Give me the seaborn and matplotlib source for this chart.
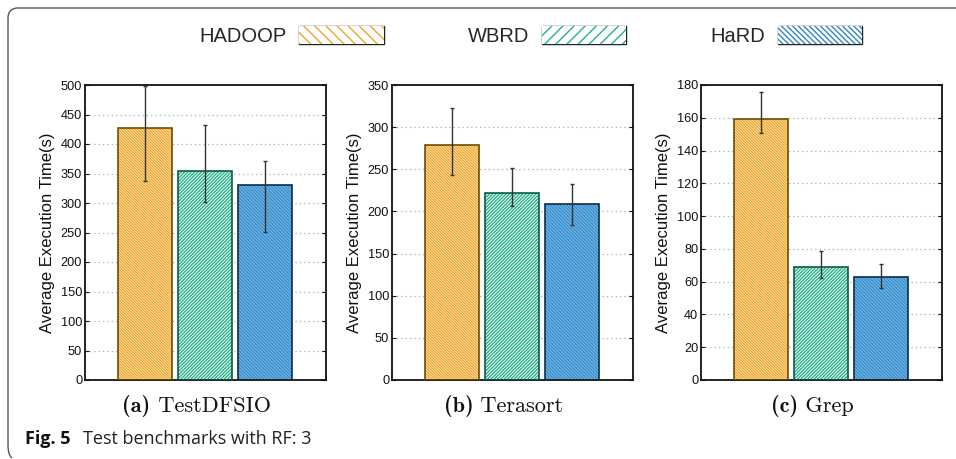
import matplotlib
matplotlib.use("Agg")
import matplotlib.pyplot as plt
import seaborn as sns
import pandas as pd
import numpy as np
from matplotlib.patches import Patch, Rectangle, PathPatch
from matplotlib.path import Path

# ---------------- data ----------------
methods = ["HADOOP", "WBRD", "HaRD"]
benchmarks = ["TestDFSIO", "Terasort", "Grep"]
panel_letters = ["a", "b", "c"]

testdfsio_mean = [427, 355, 330]
testdfsio_low = [338, 301, 251]
testdfsio_high = [499, 432, 372]

terasort_mean = [279, 222, 209]
terasort_low = [243, 206, 184]
terasort_high = [323, 252, 232]

grep_mean = [159, 69, 63]
grep_low = [151, 62, 56]
grep_high = [176, 79, 71]

y_max = [500, 350, 180]
y_step = [50, 50, 20]

ylabel = "Average Execution Time(s)"
caption_bold = "Fig. 5"
caption_text = "Test benchmarks with RF: 3"

# ---------------- style ----------------
sns.set_theme(style="white")
plt.rcParams["font.family"] = ["Liberation Sans", "DejaVu Sans"]
plt.rcParams["hatch.linewidth"] = 1.0

hatch_col = {"HADOOP": "#F0A526", "WBRD": "#25B08A", "HaRD": "#2F86C4"}
face_col = {"HADOOP": "white", "WBRD": "white", "HaRD": "#2F86C4"}
hatch_line = {"HADOOP": "#F0A526", "WBRD": "#25B08A", "HaRD": "#6DB2E4"}
edge_col = {"HADOOP": "#6B4E00", "WBRD": "#0D5C45", "HaRD": "#0C2E48"}
bar_hatch = {"HADOOP": "\\" * 12, "WBRD": "/" * 10, "HaRD": "\\" * 10}
leg_hatch = {"HADOOP": "\\" * 3, "WBRD": "/" * 3, "HaRD": "\\" * 6}

W, H = 956, 459
fig = plt.figure(figsize=(W / 100, H / 100), dpi=100)

lefts = [85, 392, 701]
ax_w = 241
ax_top, ax_bot = 85, 380

means = [testdfsio_mean, terasort_mean, grep_mean]
lows = [testdfsio_low, terasort_low, grep_low]
highs = [testdfsio_high, terasort_high, grep_high]

cap_pairs = []
for i in range(3):
    ax = fig.add_axes([lefts[i] / W, 1 - ax_bot / H, ax_w / W, (ax_bot - ax_top) / H])
    df = pd.DataFrame({"method": methods, "value": means[i]})
    sns.barplot(data=df, x="method", y="value", hue="method", order=methods,
                hue_order=methods, palette=hatch_col, width=0.9, errorbar=None,
                legend=False, ax=ax, zorder=2)
    for p, m in zip(ax.patches, methods):
        p.set_facecolor(face_col[m])
        p.set_edgecolor(hatch_line[m])
        p.set_hatch(bar_hatch[m])
        p.set_linewidth(0)
        bb = p.get_bbox()
        ax.add_patch(Rectangle((bb.x0, bb.y0), bb.width, bb.height, fill=False,
                               edgecolor=edge_col[m], linewidth=1.2, zorder=3))
    xs = np.arange(len(methods))
    m_arr = np.array(means[i])
    yerr = np.vstack([m_arr - np.array(lows[i]), np.array(highs[i]) - m_arr])
    ax.errorbar(xs, m_arr, yerr=yerr, fmt="none", ecolor="#333333",
                elinewidth=1.0, capsize=1.5, capthick=1.0, zorder=4)
    ax.set_xlim(-1.0, 3.02)
    ax.set_ylim(0, y_max[i])
    ax.set_yticks(np.arange(0, y_max[i] + 1, y_step[i]))
    ax.set_xticks([])
    ax.set_xlabel("")
    ax.set_ylabel(ylabel, fontsize=12, labelpad=4, color="#111111")
    ax.yaxis.grid(True, linestyle=(0, (1, 2.5)), color="#AAAAAA", linewidth=0.9, zorder=0)
    ax.set_axisbelow(True)
    ax.tick_params(axis="y", which="both", left=True, right=True, direction="in",
                   length=3, width=0.8, labelsize=9.2, pad=2, colors="#111111")
    for s in ax.spines.values():
        s.set_color("#111111")
        s.set_linewidth(1.3)
    cx = (lefts[i] + ax_w / 2 - 9) / W
    t1 = fig.text(cx, 1 - 406 / H, "(" + panel_letters[i] + ")", family="cmb10",
                  fontsize=16, ha="left", va="center", color="#111111")
    t2 = fig.text(cx, 1 - 406 / H, " " + benchmarks[i], family="cmr10",
                  fontsize=16, ha="left", va="center", color="#111111")
    cap_pairs.append((cx, t1, t2))

# legend
handles = [Patch(facecolor="white", edgecolor=hatch_col[m], hatch=leg_hatch[m],
                 linewidth=0) for m in methods]
leg = fig.legend(handles, methods, loc="center", bbox_to_anchor=(531 / W, 1 - 36 / H),
                 ncol=3, frameon=False, fontsize=14.5, markerfirst=False,
                 handlelength=4.2, handleheight=0.95, handletextpad=0.6,
                 columnspacing=4.2)

fig.canvas.draw()
renderer = fig.canvas.get_renderer()
# center the two-part subcaptions
for cx, t1, t2 in cap_pairs:
    w1 = t1.get_window_extent(renderer).width / W
    w2 = t2.get_window_extent(renderer).width / W
    x0 = cx - (w1 + w2) / 2
    t1.set_x(x0)
    t2.set_x(x0 + w1)
# outline legend patches
for h in leg.legend_handles:
    bb = h.get_window_extent(renderer)
    fig.add_artist(Rectangle((bb.x0 / W, bb.y0 / H), bb.width / W, bb.height / H,
                             transform=fig.transFigure, fill=False,
                             edgecolor="#222222", linewidth=1.0))

# caption
fig.text(25 / W, 1 - 439 / H, caption_bold, fontsize=13, fontweight="bold",
         family=["Open Sans", "DejaVu Sans"], ha="left", va="center", color="#111111")
fig.text(83 / W, 1 - 439 / H, caption_text, fontsize=13,
         family=["Open Sans", "DejaVu Sans"], ha="left", va="center", color="#222222")

# frame (top line + left line with rounded corners)
r = 10
verts = [(W, 8), (8 + r, 8), (8, 8), (8, 8 + r), (8, H - 4 - r), (8, H - 4), (8 + 4, H - 1)]
codes = [Path.MOVETO, Path.LINETO, Path.CURVE3, Path.CURVE3, Path.LINETO, Path.CURVE3, Path.CURVE3]
verts = [(x / W, 1 - y / H) for x, y in verts]
fig.add_artist(PathPatch(Path(verts, codes), transform=fig.transFigure, fill=False,
                         edgecolor="#555555", linewidth=1.0))

fig.savefig("out.png", dpi=100)
